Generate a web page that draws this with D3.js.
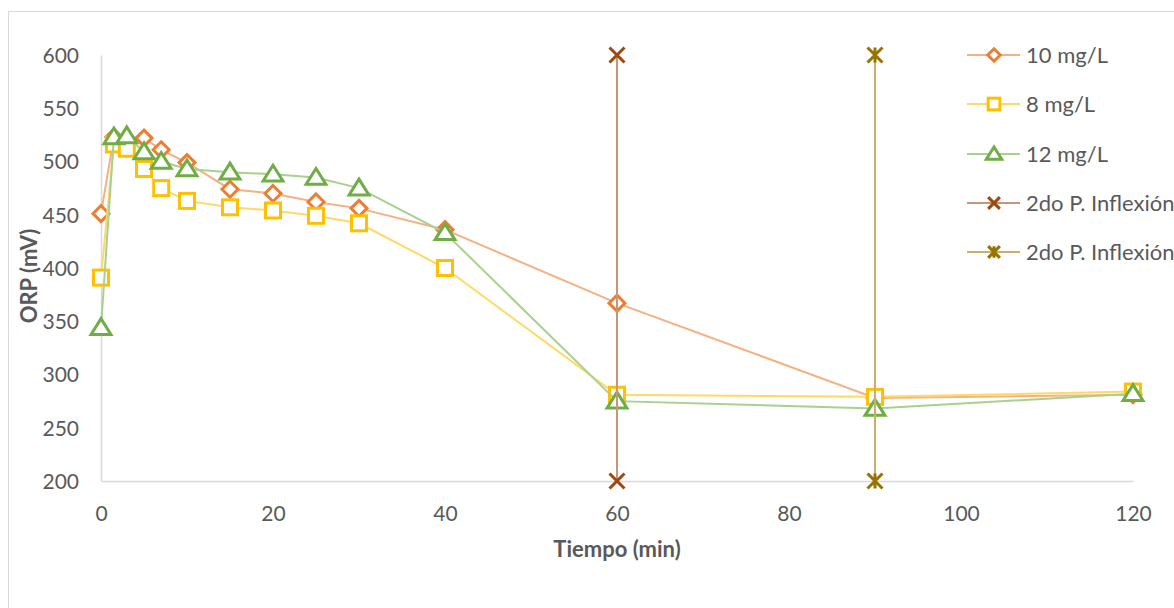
<!DOCTYPE html>
<html><head><meta charset="utf-8">
<script src="https://cdn.jsdelivr.net/npm/d3@7"></script>
<style>
html,body{margin:0;padding:0;background:#fff;}
svg{display:block;font-family:Lato,"Open Sans",sans-serif;}
</style></head>
<body>
<svg id="c" width="1174" height="608"></svg>
<script>
// ---- data ----
const time10 = [0, 1.5, 3, 5, 7, 10, 15, 20, 25, 30, 40, 60, 90, 120];
const orp10  = [451, 523, 521, 522, 511, 499, 474, 470, 462, 456, 436, 367, 278, 281];
const time8  = [0, 1.5, 3, 5, 7, 10, 15, 20, 25, 30, 40, 60, 90, 120];
const orp8   = [391, 516, 512, 493, 475, 463, 457, 454, 449, 442, 400, 281, 279, 284];
const time12 = [0, 1.5, 3, 5, 7, 10, 15, 20, 25, 30, 40, 60, 90, 120];
const orp12  = [344, 523, 524, 509, 500, 493, 490, 488, 485, 475, 433, 275, 268, 282];
const inflexA_t = [60, 60];
const inflexA_v = [600, 200];
const inflexB_t = [90, 90];
const inflexB_v = [600, 200];
const xTicks = [0, 20, 40, 60, 80, 100, 120];
const yTicks = [200, 250, 300, 350, 400, 450, 500, 550, 600];
const seriesNames = ["10 mg/L", "8 mg/L", "12 mg/L", "2do P. Inflexión", "2do P. Inflexión"];

const svg = d3.select("#c");
const x = d3.scaleLinear().domain([0, 120]).range([101, 1133]);
const y = d3.scaleLinear().domain([200, 600]).range([481, 55]);

// chart area border
svg.append("rect").attr("x", 8.5).attr("y", 11.5).attr("width", 1300).attr("height", 700)
  .attr("fill", "#fff").attr("stroke", "#D9D9D9").attr("stroke-width", 1);

const txt = "#595959";
// axes
const gx = svg.append("g").attr("transform", "translate(0,481)")
  .call(d3.axisBottom(x).tickValues(xTicks).tickSize(0).tickPadding(0).tickFormat(d3.format("d")));
gx.select(".domain").attr("stroke", "#D9D9D9").attr("stroke-width", 1.5);
gx.selectAll("text").attr("y", 40).attr("dy", null).attr("fill", txt)
  .style("font-size", "21px").style("font-family", "Lato");

const gy = svg.append("g").attr("transform", "translate(101,0)")
  .call(d3.axisLeft(y).tickValues(yTicks).tickSize(0).tickPadding(0).tickFormat(d3.format("d")));
gy.select(".domain").attr("stroke", "#D9D9D9").attr("stroke-width", 1.5);
gy.selectAll("text").attr("x", -22).attr("dy", "0.35em").attr("fill", txt)
  .style("font-size", "21px").style("font-family", "Lato");

// axis titles
svg.append("text").attr("x", 617).attr("y", 557).attr("text-anchor", "middle")
  .attr("fill", txt).style("font-size", "22px").style("font-weight", "bold").text("Tiempo (min)");
svg.append("text").attr("transform", "translate(37,276) rotate(-90)").attr("text-anchor", "middle")
  .attr("fill", txt).style("font-size", "22px").style("font-weight", "bold").text("ORP (mV)");

// marker helpers
function diamond(g, s) {
  return g.append("path").attr("d", `M0,${-s}L${s},0L0,${s}L${-s},0Z`);
}
function square(g, s) {
  return g.append("rect").attr("x", -s).attr("y", -s).attr("width", 2 * s).attr("height", 2 * s);
}
function triangle(g, s) {
  return g.append("path").attr("d", `M0,${-s}L${s * 1.1},${s * 0.75}L${-s * 1.1},${s * 0.75}Z`);
}
function cross(g, s) {
  return g.append("path").attr("d", `M${-s},${-s}L${s},${s}M${-s},${s}L${s},${-s}`);
}
function star(g, s) {
  return g.append("path").attr("d", `M${-s},${-s}L${s},${s}M${-s},${s}L${s},${-s}M0,${-s}L0,${s}`);
}

const series = [
  {t: time10, v: orp10, line: "#F4B183", mk: "#ED7D31", shape: diamond, size: 8, sw: 3},
  {t: time8, v: orp8, line: "#FFD966", mk: "#FFC000", shape: square, size: 7.5, sw: 3},
  {t: time12, v: orp12, line: "#A9D18E", mk: "#70AD47", shape: triangle, size: 9, sw: 3},
  {t: inflexA_t, v: inflexA_v, line: "#C9957A", mk: "#9E480E", shape: cross, size: 7.5, sw: 3},
  {t: inflexB_t, v: inflexB_v, line: "#C9B06F", mk: "#997300", shape: star, size: 7.5, sw: 3}
];

const lineGen = d3.line().x(d => x(d[0])).y(d => y(d[1]));
series.forEach(s => {
  const pts = s.t.map((t, i) => [t, s.v[i]]);
  svg.append("path").datum(pts).attr("d", lineGen).attr("fill", "none")
    .attr("stroke", s.line).attr("stroke-width", 2);
  pts.forEach(p => {
    const g = svg.append("g").attr("transform", `translate(${x(p[0])},${y(p[1])})`);
    s.shape(g, s.size).attr("fill", "#fff").attr("stroke", s.mk).attr("stroke-width", s.sw);
  });
});

// legend
const legY = [55, 104, 154, 203, 252];
series.forEach((s, i) => {
  const g = svg.append("g").attr("transform", `translate(0,${legY[i]})`);
  g.append("line").attr("x1", 967).attr("x2", 1020).attr("y1", 0).attr("y2", 0)
    .attr("stroke", s.line).attr("stroke-width", 2);
  const m = g.append("g").attr("transform", "translate(994,0)");
  s.shape(m, s.size * 0.78).attr("fill", "#fff").attr("stroke", s.mk).attr("stroke-width", s.sw);
  g.append("text").attr("x", 1026).attr("y", 0).attr("dy", "0.35em").attr("fill", txt)
    .style("font-size", "22px").text(seriesNames[i]);
});
</script>
</body></html>
